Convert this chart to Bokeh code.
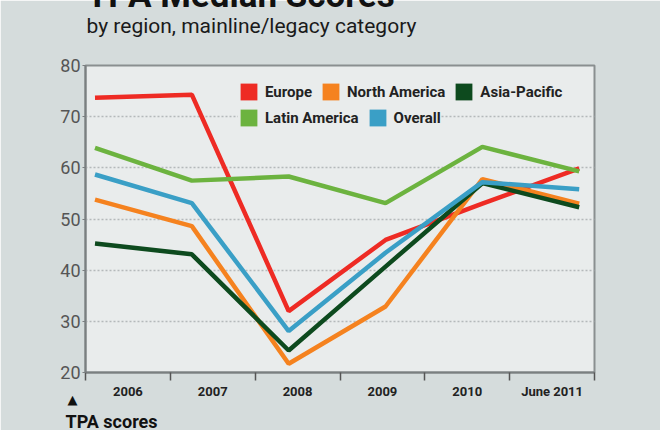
from bokeh.plotting import figure
from bokeh.models import FixedTicker, Legend, LegendItem, Label, Range1d
from bokeh.embed import file_html
from bokeh.resources import INLINE

periods = ["2006", "2007", "2008", "2009", "2010", "June 2011"]
europe = [73.7, 74.3, 32.0, 45.9, 53.0, 59.9]
north_america = [53.8, 48.6, 21.7, 32.9, 57.8, 53.0]
asia_pacific = [45.2, 43.1, 24.3, 40.7, 57.0, 52.3]
latin_america = [63.9, 57.5, 58.3, 53.1, 64.1, 59.3]
overall = [58.7, 53.1, 28.1, 43.4, 57.2, 55.8]

series = [
    ("Europe", europe, "#ee2b24"),
    ("North America", north_america, "#f5821f"),
    ("Asia-Pacific", asia_pacific, "#0d4a1e"),
    ("Latin America", latin_america, "#6cb33f"),
    ("Overall", overall, "#3a9fc6"),
]

FONT = "Roboto"
OUTER = "#d5dcdc"
INNER = "#e9ecec"

x_start, x_end = -0.098, 5.158
p = figure(width=660, height=430, output_backend="svg", toolbar_location=None,
           x_range=Range1d(x_start, x_end), y_range=Range1d(20, 80),
           min_border_left=85, min_border_right=66, min_border_top=65,
           min_border_bottom=58)
p.background_fill_color = INNER
p.border_fill_color = OUTER
p.outline_line_color = "#8a8f90"
p.outline_line_width = 2

xs = list(range(len(periods)))
for name, vals, col in series:
    p.line(xs, vals, line_color=col, line_width=4.5)

nan = float("nan")
swatch = {}
for name, vals, col in series:
    swatch[name] = p.quad(left=[nan], right=[nan], bottom=[nan], top=[nan],
                          fill_color=col, line_color=None)

# x axis: bin boundaries as minor ticks, labels at bin centres
step = (x_end - x_start) / len(periods)
bounds = [x_start + i * step for i in range(len(periods) + 1)]
mids = [x_start + (i + 0.5) * step for i in range(len(periods))]
xa = p.xaxis[0]
xa.ticker = FixedTicker(ticks=mids, minor_ticks=bounds)
xa.major_label_overrides = {m: lab for m, lab in zip(mids, periods)}
xa.major_tick_out = 0
xa.major_tick_in = 0
xa.minor_tick_out = 8
xa.minor_tick_in = 0
xa.minor_tick_line_color = "#555555"
xa.minor_tick_line_width = 1.5
xa.axis_line_color = "#7a7f80"
xa.axis_line_width = 2
xa.major_label_standoff = 3
xa.major_label_text_font = FONT
xa.major_label_text_font_style = "bold"
xa.major_label_text_font_size = "13px"
xa.major_label_text_color = "#222222"

ya = p.yaxis[0]
ya.ticker = FixedTicker(ticks=[20, 30, 40, 50, 60, 70, 80])
ya.major_tick_out = 3
ya.major_tick_in = 0
ya.minor_tick_out = 0
ya.minor_tick_in = 0
ya.major_tick_line_color = "#7a7f80"
ya.axis_line_color = "#7a7f80"
ya.axis_line_width = 2
ya.major_label_standoff = 2
ya.major_label_text_font = FONT
ya.major_label_text_font_size = "18px"
ya.major_label_text_color = "#555555"

p.xgrid.grid_line_color = None
p.ygrid.ticker = FixedTicker(ticks=[30, 40, 50, 60, 70])
p.ygrid.grid_line_color = "#b4b9ba"
p.ygrid.grid_line_dash = "2 2"
p.ygrid.grid_line_width = 1.5


def make_legend(names, x, y):
    lg = Legend(items=[LegendItem(label=n, renderers=[swatch[n]]) for n in names],
                orientation="horizontal", location=(x, y),
                background_fill_color=INNER, background_fill_alpha=1,
                border_line_color=None, glyph_width=21, glyph_height=21,
                label_text_font=FONT, label_text_font_style="bold",
                label_text_font_size="15px", label_text_color="#222222",
                label_height=21, spacing=8, padding=5, margin=0,
                label_standoff=6)
    p.add_layout(lg, "center")


make_legend(["Europe", "North America", "Asia-Pacific"], 153, 270)
make_legend(["Latin America", "Overall"], 153, 244)

# free texts outside the frame (canvas units, placed in side panels)
p.add_layout(Label(x=86, y=-5, x_units="canvas", y_units="canvas",
                   text="TPA Median Scores", text_font=FONT, text_font_style="bold",
                   text_font_size="35px", text_color="#111111",
                   text_baseline="alphabetic"), "above")
p.add_layout(Label(x=86, y=25, x_units="canvas", y_units="canvas",
                   text="by region, mainline/legacy category", text_font=FONT,
                   text_font_size="21px", text_color="#1a1a1a",
                   text_baseline="middle"), "above")
p.add_layout(Label(x=72, y=399, x_units="canvas", y_units="canvas",
                   text="▲", text_font="DejaVu Sans", text_align="center",
                   text_font_size="13px", text_color="#111111",
                   text_baseline="middle"), "left")
p.add_layout(Label(x=65, y=421, x_units="canvas", y_units="canvas",
                   text="TPA scores", text_font=FONT, text_font_style="bold",
                   text_font_size="18px", text_color="#111111",
                   text_baseline="middle"), "below")

open("out.html", "w").write(file_html(p, INLINE))
